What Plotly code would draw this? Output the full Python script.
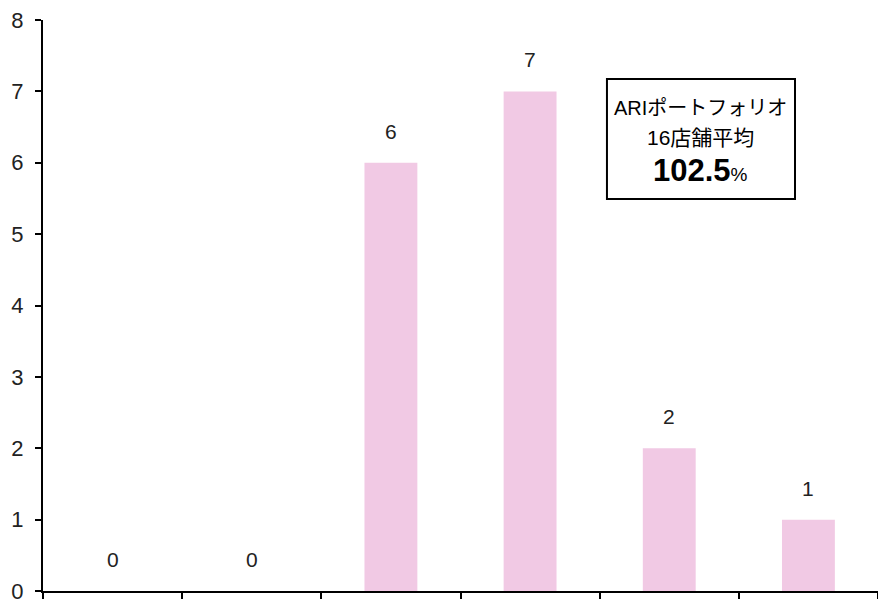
import plotly.graph_objects as go

categories = ["c1", "c2", "c3", "c4", "c5", "c6"]
counts = [0, 0, 6, 7, 2, 1]
box_line1 = "ARIポートフォリオ"
box_line2 = "16店舗平均"
box_value = "102.5"

FONT = "Liberation Sans, Noto Sans CJK JP, sans-serif"

fig = go.Figure()
fig.add_trace(go.Bar(
    x=categories, y=counts,
    marker=dict(color="#F1C9E4", line=dict(width=0)),
    width=0.38,
    hoverinfo="skip",
))

for c, v in zip(categories, counts):
    fig.add_annotation(x=c, y=v, text=str(v), showarrow=False,
                       yanchor="bottom", yshift=18,
                       font=dict(family=FONT, size=21, color="#222"))

# summary box
fig.add_shape(type="rect", xref="paper", yref="paper",
              x0=0.6754, x1=0.9006, y0=0.6865, y1=0.8967,
              line=dict(color="black", width=2), fillcolor="white")
fig.add_annotation(xref="paper", yref="paper", x=0.788, y=0.8460,
                   xanchor="center", yanchor="middle",
                   text=box_line1, showarrow=False,
                   font=dict(family=FONT, size=20, color="black"))
fig.add_annotation(xref="paper", yref="paper", x=0.788, y=0.7950,
                   xanchor="center", yanchor="middle",
                   text=box_line2, showarrow=False,
                   font=dict(family=FONT, size=21, color="black"))
fig.add_annotation(xref="paper", yref="paper", x=0.788, y=0.7373,
                   xanchor="center", yanchor="middle",
                   text="<b>" + box_value + "</b><span style='font-size:19px'>%</span>",
                   showarrow=False,
                   font=dict(family=FONT, size=31, color="black"))

fig.update_layout(
    width=878, height=599,
    margin=dict(l=43, r=0, t=20, b=8, autoexpand=False),
    paper_bgcolor="white", plot_bgcolor="white",
    showlegend=False,
    font=dict(family=FONT, size=21, color="#222"),
    xaxis=dict(
        type="category", showline=True, linecolor="black", linewidth=1.5,
        ticks="outside", tickson="boundaries", ticklen=8, tickwidth=1.5,
        tickcolor="black", showticklabels=False, showgrid=False,
        range=[-0.5, 5.5], automargin=False,
    ),
    yaxis=dict(
        range=[0, 8], dtick=1, showline=True, linecolor="black", linewidth=2,
        ticks="outside", ticklen=6, tickwidth=1.5, tickcolor="black",
        showgrid=False, zeroline=False, automargin=False,
        tickfont=dict(family=FONT, size=22, color="#222"),
        ticklabelstandoff=7, ticklabeloverflow="allow",
    ),
)

fig.write_html("out.html")
